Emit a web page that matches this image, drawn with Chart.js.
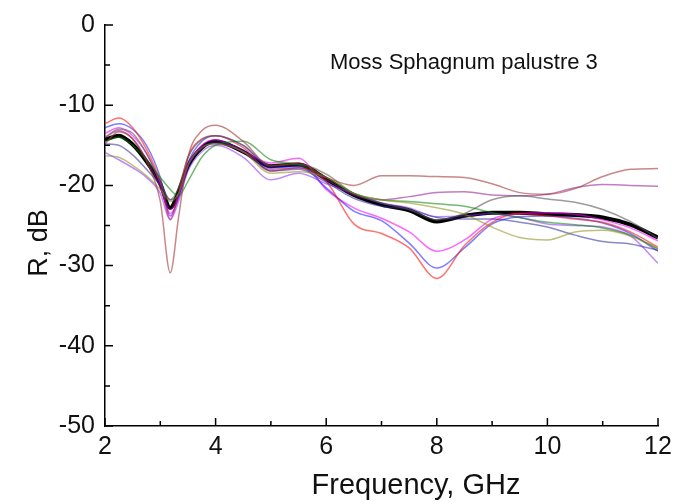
<!DOCTYPE html>
<html>
<head>
<meta charset="utf-8">
<script src="https://cdn.jsdelivr.net/npm/chart.js@4/dist/chart.umd.min.js"></script>
<style>
    html, body { margin: 0; padding: 0; background: #fff; }
    #wrap { width: 695px; height: 504px; position: relative; }
</style>
</head>
<body>
<div id="wrap"><canvas id="chart"></canvas></div>
<script>
const freqGHz = [2, 2.25, 2.5, 2.75, 3, 3.18, 3.33, 3.5, 3.75, 4, 4.5, 5, 5.5, 6, 6.5, 7, 7.5, 8, 8.5, 9, 9.5, 10, 10.5, 11, 11.5, 12];

const wineR = [-14.8, -13.3, -14.2, -17.0, -22.0, -30.9, -24.0, -16.5, -13.2, -12.5, -14.5, -17.6, -17.2, -19.0, -20.0, -18.8, -18.8, -18.9, -19.0, -19.8, -20.9, -21.1, -20.4, -18.9, -18.0, -17.9];
const redR = [-12.3, -11.6, -12.8, -15.5, -19.5, -24.2, -21.0, -16.5, -14.2, -13.8, -15.3, -18.2, -17.8, -19.5, -24.8, -26.0, -27.8, -31.6, -27.5, -24.6, -23.5, -23.8, -24.2, -24.6, -25.8, -27.7];
const blueR = [-12.8, -12.3, -13.0, -15.0, -19.0, -23.8, -21.5, -17.2, -14.5, -13.8, -15.0, -17.8, -17.6, -20.3, -23.2, -24.4, -27.2, -30.3, -27.8, -24.8, -23.9, -23.8, -24.1, -24.7, -26.0, -28.2];
const magentaR = [-13.5, -12.8, -13.8, -16.0, -19.8, -23.5, -21.6, -17.5, -15.0, -14.3, -15.8, -17.2, -16.6, -20.5, -22.8, -24.1, -25.8, -28.2, -26.8, -24.2, -23.5, -23.4, -23.6, -24.3, -25.3, -26.9];
const purpleR = [-14.0, -13.2, -14.2, -16.8, -20.2, -23.0, -21.2, -17.4, -15.2, -14.8, -15.8, -18.0, -17.8, -19.3, -21.2, -21.8, -21.4, -20.9, -20.8, -21.2, -21.3, -21.1, -20.3, -19.9, -20.0, -20.1];
const grayR = [-14.0, -13.0, -13.5, -16.0, -19.5, -21.8, -20.3, -16.5, -14.3, -13.8, -15.0, -17.5, -17.4, -18.6, -21.0, -22.2, -23.0, -24.3, -23.5, -21.8, -21.3, -21.7, -22.1, -23.0, -24.5, -26.6];
const greenR = [-14.5, -14.0, -15.0, -16.8, -19.0, -20.5, -21.3, -19.5, -16.5, -15.0, -14.5, -16.8, -17.4, -19.0, -21.0, -21.8, -22.0, -22.3, -22.6, -23.4, -24.0, -24.6, -24.9, -25.3, -26.2, -27.9];
const oliveR = [-16.3, -16.5, -17.5, -18.8, -20.5, -22.0, -21.0, -17.5, -15.3, -14.8, -15.8, -18.5, -18.3, -19.0, -21.0, -21.8, -22.2, -22.8, -23.6, -25.2, -26.5, -26.8, -25.8, -25.6, -26.3, -27.9];
const navyR = [-14.8, -15.0, -16.2, -18.0, -20.0, -21.8, -21.0, -17.6, -15.4, -14.6, -15.6, -18.2, -18.0, -19.6, -21.6, -22.6, -23.0, -24.0, -24.2, -24.2, -24.6, -25.2, -26.2, -27.0, -27.3, -28.1];
const violetR = [-15.9, -16.8, -17.8, -19.0, -21.0, -24.3, -22.0, -18.2, -15.8, -15.0, -16.5, -19.3, -18.5, -19.8, -21.0, -22.2, -22.8, -23.9, -23.8, -23.5, -24.0, -24.8, -25.0, -25.2, -26.3, -29.7];
const meanR = [-14.3, -13.8, -14.9, -17.0, -19.8, -22.8, -20.8, -17.6, -15.3, -14.5, -15.8, -17.6, -17.4, -19.2, -21.2, -22.4, -23.1, -24.5, -23.8, -23.4, -23.4, -23.6, -23.7, -24.0, -24.9, -26.5];

const xMajorTicks = [2, 4, 6, 8, 10, 12];
const xMinorTicks = [3, 5, 7, 9, 11];
const yMajorTicks = [0, -10, -20, -30, -40, -50];
const yMinorTicks = [-5, -15, -25, -35, -45];
const chartTitle = 'Moss Sphagnum palustre 3';
const xTitle = 'Frequency, GHz';
const yTitle = 'R, dB';
const fontFamily = '"Liberation Sans", Arial, sans-serif';

const thinSeries = [
    { data: wineR, color: 'rgba(165, 55, 55, 0.6)' },
    { data: oliveR, color: 'rgba(140, 140, 20, 0.55)' },
    { data: greenR, color: 'rgba(0, 128, 0, 0.55)' },
    { data: grayR, color: 'rgba(90, 90, 90, 0.6)' },
    { data: navyR, color: 'rgba(40, 40, 150, 0.55)' },
    { data: violetR, color: 'rgba(140, 40, 255, 0.55)' },
    { data: purpleR, color: 'rgba(140, 20, 140, 0.55)' },
    { data: redR, color: 'rgba(255, 20, 20, 0.6)' },
    { data: blueR, color: 'rgba(20, 20, 255, 0.55)' },
    { data: magentaR, color: 'rgba(255, 0, 255, 0.6)' },
];

function toPoints(values) {
    return values.map((v, i) => ({ x: freqGHz[i], y: v }));
}

const datasets = thinSeries.map(s => ({
    data: toPoints(s.data),
    borderColor: s.color,
    borderWidth: 1.5,
    pointRadius: 0,
    cubicInterpolationMode: 'monotone',
    fill: false,
}));
datasets.push({
    data: toPoints(meanR),
    borderColor: '#000',
    borderWidth: 4,
    pointRadius: 0,
    cubicInterpolationMode: 'monotone',
    fill: false,
});

// ticks point into the plot area; axis titles sit off-centre like the original
const innerTicks = {
    id: 'innerTicks',
    afterDraw(chart) {
        const { ctx, chartArea, scales } = chart;
        ctx.save();
        ctx.strokeStyle = '#000';
        ctx.lineWidth = 1.5;
        ctx.beginPath();
        xMajorTicks.forEach(v => {
            const px = scales.x.getPixelForValue(v);
            ctx.moveTo(px, chartArea.bottom);
            ctx.lineTo(px, chartArea.bottom - 8);
        });
        xMinorTicks.forEach(v => {
            const px = scales.x.getPixelForValue(v);
            ctx.moveTo(px, chartArea.bottom);
            ctx.lineTo(px, chartArea.bottom - 5);
        });
        yMajorTicks.forEach(v => {
            const py = scales.y.getPixelForValue(v);
            ctx.moveTo(chartArea.left, py);
            ctx.lineTo(chartArea.left + 8, py);
        });
        yMinorTicks.forEach(v => {
            const py = scales.y.getPixelForValue(v);
            ctx.moveTo(chartArea.left, py);
            ctx.lineTo(chartArea.left + 5, py);
        });
        ctx.stroke();

        ctx.fillStyle = '#111';
        ctx.textBaseline = 'middle';
        ctx.font = '22px ' + fontFamily;
        ctx.textAlign = 'left';
        ctx.fillText(chartTitle, 330, 63);

        ctx.font = '29px ' + fontFamily;
        ctx.textAlign = 'center';
        ctx.fillText(xTitle, 416, 486);

        ctx.translate(40, 243);
        ctx.rotate(-Math.PI / 2);
        ctx.font = '27px ' + fontFamily;
        ctx.fillText(yTitle, 0, 0);
        ctx.restore();
    }
};

new Chart(document.getElementById('chart'), {
    type: 'line',
    data: { datasets },
    options: {
        responsive: true,
        maintainAspectRatio: false,
        animation: false,
        layout: { padding: { top: 20, right: 37, bottom: 0, left: 0 } },
        plugins: {
            legend: { display: false },
            tooltip: { enabled: false },
        },
        scales: {
            x: {
                type: 'linear',
                min: 2,
                max: 12,
                afterFit: scale => { scale.height = 78; },
                afterBuildTicks: scale => { scale.ticks = xMajorTicks.map(v => ({ value: v })); },
                grid: { display: false, drawTicks: false },
                border: { display: true, color: '#000', width: 1.5 },
                ticks: {
                    color: '#111',
                    padding: 6,
                    maxRotation: 0,
                    font: { family: fontFamily, size: 25 },
                },
            },
            y: {
                type: 'linear',
                min: -50,
                max: 0,
                afterFit: scale => { scale.width = 105; },
                afterBuildTicks: scale => { scale.ticks = yMajorTicks.map(v => ({ value: v })); },
                grid: { display: false, drawTicks: false },
                border: { display: true, color: '#000', width: 1.5 },
                ticks: {
                    color: '#111',
                    padding: 10,
                    font: { family: fontFamily, size: 25 },
                },
            },
        },
    },
    plugins: [innerTicks],
});
</script>
</body>
</html>
